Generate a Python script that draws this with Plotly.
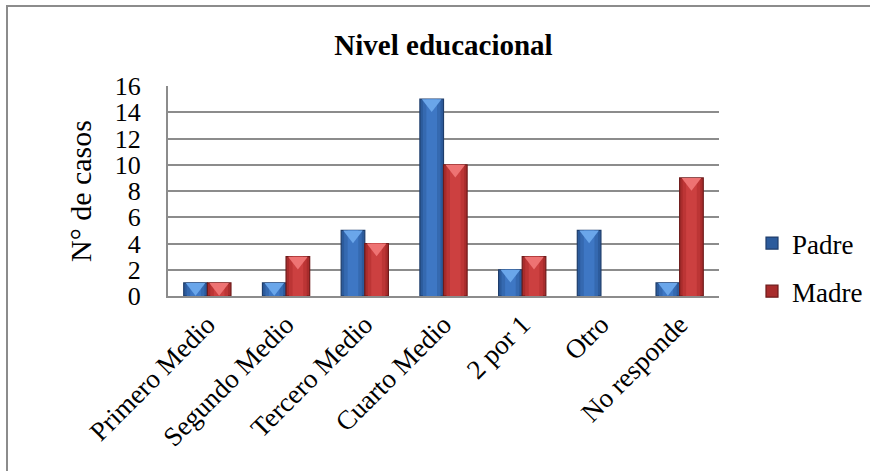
import plotly.graph_objects as go

categorias = ["Primero Medio", "Segundo Medio", "Tercero Medio", "Cuarto Medio",
              "2 por 1", "Otro", "No responde"]
padre = [1, 1, 5, 15, 2, 5, 1]
madre = [1, 3, 4, 10, 3, 0, 9]
ticks_y = [0, 2, 4, 6, 8, 10, 12, 14, 16]

FONT = "Liberation Serif, Times New Roman, serif"

L, R, T, B = 168, 151, 86, 175
W, H = 870, 471
pw, ph = W - L - R, H - T - B
Y_MAX = 16
px_per_unit = ph / Y_MAX

pos = list(range(len(categorias)))
BAR_W = 0.3

# (name, values, offset, edge colour, base, mid, light, bevel)
series = [
    ("Padre", padre, -BAR_W, "#1E3D6B", "#2C5B9C", "#3569B0", "#3E77C4", "#6AA6EA"),
    ("Madre", madre, 0.0, "#6E1A1A", "#A82C2C", "#BC3535", "#CC4040", "#EE7373"),
]

fig = go.Figure()
TRI = 17
tri_drop = (TRI / 4) / px_per_unit

for name, vals, off, edge, base, mid, light, bevel in series:
    fig.add_trace(go.Bar(
        name=name, x=pos, y=vals, width=BAR_W, offset=off, legendgroup=name,
        marker=dict(color=base,
                    line=dict(color=edge, width=[1.2 if v > 0 else 0 for v in vals])),
    ))
    # rounded shading: progressively narrower, lighter columns
    for frac, col in ((0.75, mid), (0.45, light)):
        w = BAR_W * frac
        fig.add_trace(go.Bar(
            x=pos, y=vals, width=w, offset=off + (BAR_W - w) / 2, legendgroup=name,
            marker=dict(color=col, line=dict(width=0)),
            showlegend=False, hoverinfo="skip",
        ))
    # bevelled top of each column
    fig.add_trace(go.Scatter(
        x=[p + off + BAR_W / 2 for p in pos],
        y=[v - tri_drop if v > 0 else None for v in vals],
        mode="markers", legendgroup=name,
        marker=dict(symbol="triangle-down", size=TRI, color=bevel, line=dict(width=0)),
        showlegend=False, hoverinfo="skip",
    ))

fig.update_layout(
    width=W, height=H,
    margin=dict(l=L, r=R, t=T, b=B, autoexpand=False),
    paper_bgcolor="white", plot_bgcolor="white",
    barmode="overlay",
    font=dict(family=FONT, color="black"),
    title=dict(text="<b>Nivel educacional</b>", font=dict(size=29, family=FONT),
               x=0.5, xref="paper", xanchor="center",
               y=1 - 45 / H, yref="container", yanchor="middle"),
    legend=dict(x=(752 - L) / pw, y=(296 - 267.5) / ph, xanchor="left", yanchor="middle",
                font=dict(size=27, family=FONT), traceorder="grouped",
                tracegroupgap=10, itemwidth=30, bgcolor="rgba(0,0,0,0)"),
    showlegend=True,
)
fig.update_xaxes(
    range=[-0.5, len(categorias) - 0.5],
    tickmode="array", tickvals=pos, ticktext=categorias,
    tickangle=-45, tickfont=dict(size=27, family=FONT),
    showline=True, linecolor="#8c8c8c", linewidth=2, showgrid=False,
    zeroline=False, ticks="", automargin=False,
)
fig.update_yaxes(
    range=[0, Y_MAX], tickvals=ticks_y, tickfont=dict(size=26, family=FONT),
    showgrid=True, gridcolor="#8c8c8c", gridwidth=2,
    showline=True, linecolor="#8c8c8c", linewidth=2,
    zeroline=False, ticks="", ticklabelstandoff=20, automargin=False,
)

fig.add_annotation(
    text="N° de casos", textangle=-90, showarrow=False,
    xref="paper", yref="paper", x=(80 - L) / pw, y=(296 - 191) / ph,
    xanchor="center", yanchor="middle", font=dict(size=30, family=FONT),
)

# outer chart frame
fig.add_shape(
    type="rect", xref="paper", yref="paper", layer="below",
    x0=(7 - L) / pw, x1=(900 - L) / pw, y0=(296 - 520) / ph, y1=(296 - 6) / ph,
    line=dict(color="#8c8c8c", width=2), fillcolor="rgba(0,0,0,0)",
)

fig.write_html("out.html")
